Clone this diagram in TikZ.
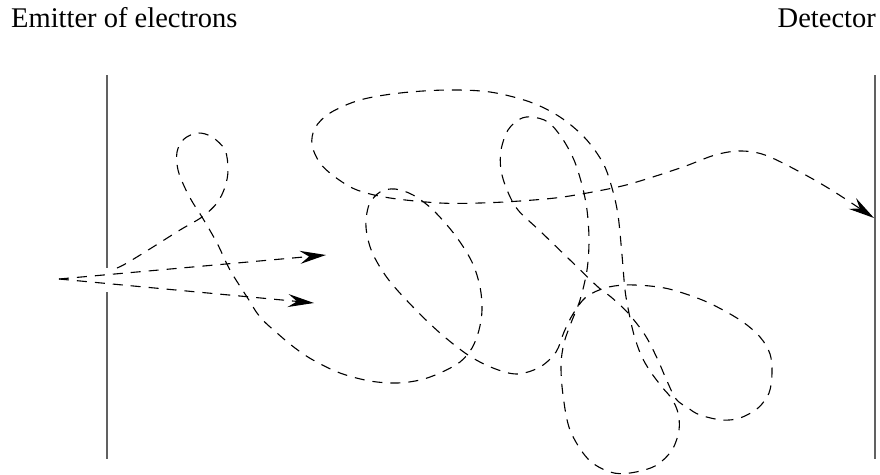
\documentclass[tikz,border=0pt]{standalone}
\usepackage{fontspec}
\setmainfont{Liberation Serif}
\usetikzlibrary{arrows.meta}
\begin{document}
\begin{tikzpicture}[x=1pt,y=-1pt,
  wall/.style={line width=1.8pt, draw=black!62},
  track/.style={dash pattern=on 10pt off 8pt, line width=1.1pt},
  tip/.style={-{Stealth[length=26pt,width=13pt,inset=9pt]}},
  lbl/.style={font=\fontsize{28.5}{34}\selectfont, inner sep=0pt}]
\useasboundingbox (0,0) rectangle (880,474);

% labels
\node[lbl, anchor=base west] (emitlbl) at (11,27) {Emitter of electrons};
\node[lbl, anchor=base east] (detlbl) at (876,27) {Detector};

% emitter plate with its aperture, and the detector plate
\coordinate (emtop) at (107,75);
\coordinate (emgapA) at (107,268);
\coordinate (emgapB) at (107,292);
\coordinate (embot) at (107,459);
\coordinate (dettop) at (875,75);
\coordinate (detbot) at (875,459);
\draw[wall] (emtop) -- (emgapA);
\draw[wall] (emgapB) -- (embot);
\draw[wall] (dettop) -- (detbot);

% straight rays from the source
\coordinate (src) at (59,279);
\coordinate (rayup) at (326,255);
\coordinate (raydn) at (314,303);
\draw[track, tip] (src) -- (rayup);
\draw[track, tip] (src) -- (raydn);

% wandering electron track ending on the detector
\draw[track, tip] plot[smooth, tension=0.55] coordinates {
 (117,268) (127,263) (153,247) (180,230) (202,217) (217,203) (225,187)
 (228,170) (225,150) (212,137) (198,133) (184,139) (177,152) (178,170)
 (185,188) (193,203) (202,217) (217,243) (230,270) (247,297) (260,317)
 (277,333) (295,348) (313,360) (340,373) (370,381) (397,383) (420,380)
 (440,373) (460,362) (472,348) (479,330) (482,310) (480,287) (472,262)
 (455,235) (433,210) (413,195) (395,189) (380,192) (369,205) (366,227)
 (372,252) (388,279) (413,307) (440,333) (468,355) (493,368) (517,374)
 (540,367) (556,352) (564,332) (573,314) (586,297) (605,288) (625,285)
 (650,286) (673,290) (707,302) (740,320) (760,337) (770,354) (772,373)
 (769,393) (758,408) (740,418) (722,420) (700,415) (688,408) (676,399)
 (667,381) (657,358) (645,335) (628,313) (611,297) (598,287) (570,260)
 (540,231) (518,210) (507,190) (501,170) (501,150) (508,130) (520,119)
 (532,117) (548,122) (562,138) (574,160) (582,185) (587,210) (589,240)
 (587,270) (580,300) (571,323) (564,343) (561,365) (563,395) (570,430)
 (588,459) (610,472) (630,473) (655,466) (672,450) (679,430) (678,413)
 (672,399) (662,387) (650,371) (641,355) (634,335) (629,313) (625,290)
 (622,255) (618,215) (612,188) (603,163) (585,138) (560,117) (530,102)
 (490,92) (447,90) (400,93) (360,100) (330,113) (315,128) (312,145)
 (320,163) (335,177) (357,190) (390,198) (440,203) (480,203) (520,201)
 (563,197) (613,188) (640,181) (683,167) (715,155) (740,151) (765,155)
 (800,172) (833,191) (874,218)};
\end{tikzpicture}
\end{document}
